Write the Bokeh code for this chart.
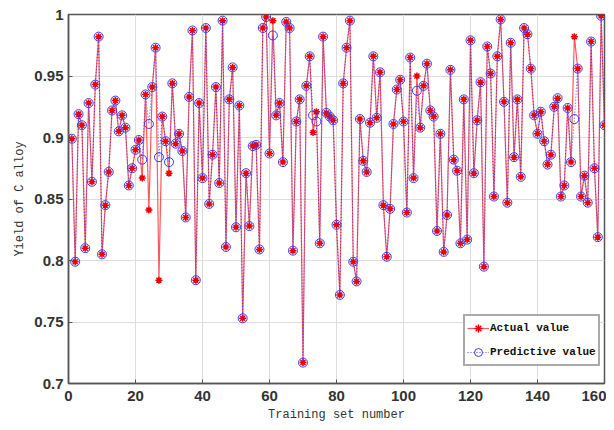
from bokeh.plotting import figure
from bokeh.models import FixedTicker, CustomJSTickFormatter, Range1d, Legend, LegendItem
from bokeh.embed import file_html
from bokeh.resources import INLINE

x_ticks = [0, 20, 40, 60, 80, 100, 120, 140, 160]
y_ticks = [0.7, 0.75, 0.8, 0.85, 0.9, 0.95, 1.0]

sample = list(range(1, 161))

actual = [0.899, 0.799, 0.919, 0.910, 0.810, 0.928, 0.864, 0.943, 0.982, 0.805,
          0.845, 0.872, 0.922, 0.930, 0.905, 0.918, 0.908, 0.861, 0.875, 0.890,
          0.898, 0.867, 0.935, 0.841, 0.941, 0.973, 0.784, 0.917, 0.897, 0.871,
          0.944, 0.895, 0.903, 0.889, 0.835, 0.933, 0.987, 0.784, 0.928, 0.867,
          0.989, 0.846, 0.886, 0.941, 0.863, 0.995, 0.811, 0.931, 0.957, 0.827,
          0.926, 0.753, 0.871, 0.828, 0.893, 0.894, 0.809, 0.989, 0.998, 0.887,
          0.995, 0.918, 0.928, 0.880, 0.994, 0.989, 0.808, 0.913, 0.931, 0.717,
          0.942, 0.966, 0.904, 0.921, 0.814, 0.982, 0.920, 0.917, 0.914, 0.829,
          0.772, 0.944, 0.973, 0.995, 0.799, 0.783, 0.915, 0.881, 0.872, 0.912,
          0.966, 0.916, 0.953, 0.845, 0.803, 0.842, 0.911, 0.939, 0.947, 0.913,
          0.839, 0.965, 0.867, 0.950, 0.908, 0.942, 0.960, 0.922, 0.917, 0.824,
          0.903, 0.807, 0.837, 0.955, 0.882, 0.873, 0.814, 0.931, 0.817, 0.979,
          0.871, 0.914, 0.945, 0.795, 0.974, 0.952, 0.852, 0.966, 0.996, 0.929,
          0.847, 0.977, 0.884, 0.931, 0.868, 0.989, 0.984, 0.956, 0.918, 0.903,
          0.921, 0.897, 0.878, 0.886, 0.925, 0.932, 0.852, 0.861, 0.924, 0.880,
          0.982, 0.956, 0.852, 0.869, 0.847, 0.978, 0.875, 0.819, 0.999, 0.910]

predictive = [0.899, 0.799, 0.919, 0.910, 0.810, 0.928, 0.864, 0.943, 0.982, 0.805,
              0.845, 0.872, 0.922, 0.930, 0.905, 0.918, 0.908, 0.861, 0.875, 0.890,
              0.898, 0.882, 0.935, 0.911, 0.941, 0.973, 0.884, 0.917, 0.897, 0.880,
              0.944, 0.895, 0.903, 0.889, 0.835, 0.933, 0.987, 0.784, 0.928, 0.867,
              0.989, 0.846, 0.886, 0.941, 0.863, 0.995, 0.811, 0.931, 0.957, 0.827,
              0.926, 0.753, 0.871, 0.828, 0.893, 0.894, 0.809, 0.989, 0.998, 0.887,
              0.983, 0.918, 0.928, 0.880, 0.994, 0.989, 0.808, 0.913, 0.931, 0.717,
              0.942, 0.966, 0.918, 0.913, 0.814, 0.982, 0.920, 0.917, 0.914, 0.829,
              0.772, 0.944, 0.973, 0.995, 0.799, 0.783, 0.915, 0.881, 0.872, 0.912,
              0.966, 0.916, 0.953, 0.845, 0.803, 0.842, 0.911, 0.939, 0.947, 0.913,
              0.839, 0.965, 0.867, 0.938, 0.908, 0.942, 0.960, 0.922, 0.917, 0.824,
              0.903, 0.807, 0.837, 0.955, 0.882, 0.873, 0.814, 0.931, 0.817, 0.979,
              0.871, 0.914, 0.945, 0.795, 0.974, 0.952, 0.852, 0.966, 0.996, 0.929,
              0.847, 0.977, 0.884, 0.931, 0.868, 0.989, 0.984, 0.956, 0.918, 0.903,
              0.921, 0.897, 0.878, 0.886, 0.925, 0.932, 0.852, 0.861, 0.924, 0.880,
              0.915, 0.956, 0.852, 0.869, 0.847, 0.978, 0.875, 0.819, 0.999, 0.910]

p = figure(width=606, height=428, output_backend="svg", toolbar_location=None,
           x_range=Range1d(0, 160), y_range=Range1d(0.7, 1.0),
           min_border_left=68, min_border_top=14, min_border_right=2, min_border_bottom=45)

p.outline_line_color = "#555555"
p.outline_line_width = 1.5
p.background_fill_color = "white"
p.border_fill_color = "white"

fmt = CustomJSTickFormatter(code="return tick.toFixed(2).replace(/0+$/,'').replace(/\\.$/,'');")

for ax in p.xaxis + p.yaxis:
    ax.major_label_text_font = "Liberation Sans"
    ax.major_label_text_font_style = "bold"
    ax.major_label_text_font_size = "15px"
    ax.major_label_text_color = "#333333"
    ax.axis_line_color = "#555555"
    ax.axis_line_width = 1.5
    ax.major_tick_in = 4
    ax.major_tick_out = 0
    ax.major_tick_line_color = "#555555"
    ax.minor_tick_line_color = None
    ax.axis_label_text_font = "Liberation Mono"
    ax.axis_label_text_font_style = "normal"
    ax.axis_label_text_font_size = "12px"
    ax.axis_label_text_color = "#333333"

p.xaxis.ticker = FixedTicker(ticks=x_ticks)
p.yaxis.ticker = FixedTicker(ticks=y_ticks)
p.yaxis.formatter = fmt
p.xaxis.axis_label = "Training set number"
p.yaxis.axis_label = "Yield of C alloy"
p.xaxis.major_label_standoff = 7
p.xaxis.axis_label_standoff = 4
p.yaxis.major_label_standoff = 5
p.yaxis.axis_label_standoff = 4

p.xgrid.ticker = FixedTicker(ticks=x_ticks)
p.ygrid.ticker = FixedTicker(ticks=y_ticks)
p.grid.grid_line_color = "#dddddd"
p.grid.grid_line_width = 1

r1 = p.line(sample, actual, line_color="#ff2020", line_width=1.2, line_alpha=0.75)
r2 = p.scatter(sample, actual, marker="asterisk", size=7, line_color="#ee0000", line_width=1.5)
r3 = p.line(sample, predictive, line_color="#3a3aff", line_width=1, line_dash="1 2", line_alpha=0.9)
r4 = p.scatter(sample, predictive, marker="circle", size=9, line_color="#3a3aff", fill_color=None, line_width=1)

legend = Legend(items=[LegendItem(label="Actual value", renderers=[r1, r2]),
                       LegendItem(label="Predictive value", renderers=[r3, r4])],
                location=(395, 17))
legend.label_text_font = "Liberation Mono"
legend.label_text_font_size = "11px"
legend.label_text_font_style = "bold"
legend.label_text_color = "#111111"
legend.border_line_color = "#555555"
legend.border_line_width = 2
legend.glyph_width = 22
legend.label_standoff = 1
legend.spacing = 4
legend.padding = 2
legend.margin = 0
legend.background_fill_color = "white"
legend.background_fill_alpha = 1
p.add_layout(legend, "center")

open("out.html", "w").write(file_html(p, INLINE))
